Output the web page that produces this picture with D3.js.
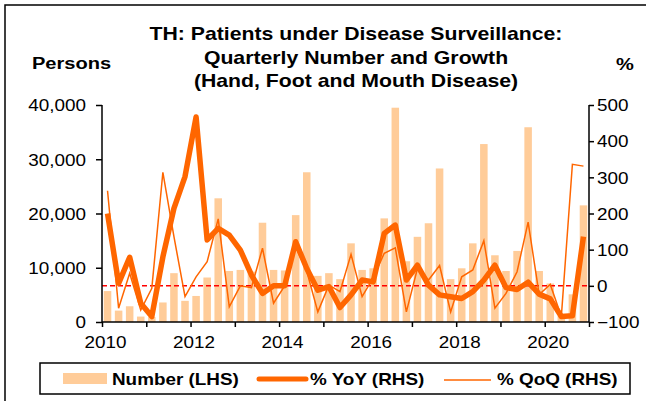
<!DOCTYPE html>
<html>
<head>
<meta charset="utf-8">
<script src="https://cdn.jsdelivr.net/npm/d3@7.9.0/dist/d3.min.js"></script>
<style>
  body { margin: 0; background: #fff; }
  svg { display: block; font-family: "Liberation Sans", Arial, sans-serif; }
</style>
</head>
<body>
<svg width="646" height="401"></svg>
<script>
// quarters 2010Q1 .. 2020Q4
const quarters = d3.range(44).map(i => `${2010 + Math.floor(i / 4)}Q${i % 4 + 1}`);

// patients (persons), left axis
const number = [
  5700, 2100, 2900, 1000, 900, 3600, 9000, 3900, 4800, 8200, 22800, 9400,
  9600, 9300, 18300, 9600, 9500, 19700, 27600, 8500, 9000, 7900, 14500, 9600,
  9900, 19100, 39500, 11200, 15700, 18200, 28300, 7900, 9900, 14500, 32800, 12300,
  9400, 13100, 35900, 9400, 7100, 1100, 5100, 21500
];

// % YoY, right axis
const yoy = [
  200, 7, 79, -48, -85, 80, 214, 302, 467, 127, 159, 140,
  99, 30, -21, 0, 0, 122, 48, -12, -2, -60, -25, 16,
  11, 145, 168, 16, 57, 2, -25, -30, -35, -16, 16, 57,
  -5, -10, 10, -23, -36, -85, -83, 136
];

// % QoQ, right axis
const qoq = [
  263, -62, 35, -67, -7, 314, 136, -30, 25, 67, 185, -58,
  0, -5, 104, -48, 0, 108, 40, -72, 2, -16, 87, -30,
  22, 90, 105, -72, 48, 16, 56, -72, 25, 44, 125, -62,
  -21, 39, 176, -24, 4, -85, 336, 331
];

const leftTicks = [0, 10000, 20000, 30000, 40000];
const rightTicks = [-100, 0, 100, 200, 300, 400, 500];
const yearTicks = d3.range(2010, 2022);

const barColor = "#FFCC99";
const lineColor = "#FF6600";
const SX = 1.18; // chart text looks horizontally stretched

const svg = d3.select("svg");
const plotL = 102, plotR = 589, plotT = 105, plotB = 322;

// outer frame (left and top edges visible)
svg.append("rect").attr("x", 5).attr("y", 5).attr("width", 700).attr("height", 450)
  .attr("fill", "none").attr("stroke", "#000").attr("stroke-width", 1.5);

const x = d3.scaleBand().domain(quarters).range([plotL, plotR]);
const xYear = d3.scaleLinear().domain([2010, 2021]).range([plotL, plotR]);
const yL = d3.scaleLinear().domain([0, 40000]).range([plotB, plotT]);
const yR = d3.scaleLinear().domain([-100, 500]).range([plotB, plotT]);

function stretchText(sel, x0, y0, str, anchor, size, weight) {
  return sel.append("text")
    .attr("transform", `translate(${x0},${y0}) scale(${SX},1)`)
    .attr("text-anchor", anchor)
    .attr("font-size", size)
    .attr("font-weight", weight || "normal")
    .text(str);
}

// bars
const bw = x.bandwidth() * 0.68;
svg.append("g").selectAll("rect").data(number).join("rect")
  .attr("x", (d, i) => x(quarters[i]) + (x.bandwidth() - bw) / 2)
  .attr("y", d => yL(d))
  .attr("width", bw)
  .attr("height", d => yL(0) - yL(d))
  .attr("fill", barColor);

// zero line for right axis
svg.append("line")
  .attr("x1", plotL).attr("x2", plotR)
  .attr("y1", yR(0)).attr("y2", yR(0))
  .attr("stroke", "#FF0000").attr("stroke-width", 1.5)
  .attr("stroke-dasharray", "5,3");

const cx = i => x(quarters[i]) + x.bandwidth() / 2;
const line = d3.line().x((d, i) => cx(i)).y(d => yR(d));

svg.append("path").datum(qoq).attr("d", line)
  .attr("fill", "none").attr("stroke", lineColor).attr("stroke-width", 1.5)
  .attr("stroke-linejoin", "miter");

svg.append("path").datum(yoy).attr("d", line)
  .attr("fill", "none").attr("stroke", lineColor).attr("stroke-width", 5.5)
  .attr("stroke-linejoin", "round");

// axes
const gL = svg.append("g").attr("transform", `translate(${plotL},0)`)
  .call(d3.axisLeft(yL).tickValues(leftTicks).tickSize(6).tickFormat(d3.format(",")));
const gR = svg.append("g").attr("transform", `translate(${plotR},0)`)
  .call(d3.axisRight(yR).tickValues(rightTicks).tickSize(5));
const gX = svg.append("g").attr("transform", `translate(0,${plotB})`)
  .call(d3.axisBottom(xYear).tickValues(yearTicks).tickSize(5)
    .tickFormat(d => d % 2 === 0 ? d : ""));

[gL, gR, gX].forEach(g => {
  g.select(".domain").attr("stroke", "#000").attr("stroke-width", 1.5);
  g.selectAll(".tick line").attr("stroke", "#000").attr("stroke-width", 1.5);
  g.selectAll("text").attr("font-size", 16).attr("fill", "#000")
    .attr("font-family", "Liberation Sans, Arial, sans-serif");
});
gL.select(".domain").attr("d", `M0,${plotB}V${plotT}`);
gR.select(".domain").attr("d", `M0,${plotB}V${plotT}`);
gX.select(".domain").attr("d", `M${plotL},0H${plotR}`);

gL.selectAll("text").attr("x", -16 / SX).attr("dy", "0.36em")
  .attr("transform", `scale(${SX},1)`);
gR.selectAll("text").attr("x", 8 / SX).attr("dy", "0.36em")
  .attr("transform", `scale(${SX},1)`);
gX.selectAll("text").attr("x", 3 / SX).attr("y", 15).attr("dy", "0.71em")
  .attr("transform", `scale(${SX},1)`);

// titles
const title = ["TH: Patients under Disease Surveillance:",
  "Quarterly Number and Growth",
  "(Hand, Foot and Mouth Disease)"];
title.forEach((t, i) => stretchText(svg, 356, 40 + i * 23.5, t, "middle", 18, "bold"));
stretchText(svg, 32, 69, "Persons", "start", 17, "bold");
stretchText(svg, 625, 70, "%", "middle", 17, "bold");

// legend
const lg = svg.append("g");
lg.append("rect").attr("x", 40).attr("y", 363).attr("width", 590).attr("height", 31)
  .attr("fill", "#fff").attr("stroke", "#000").attr("stroke-width", 1.5);
lg.append("rect").attr("x", 63).attr("y", 373).attr("width", 44).attr("height", 11)
  .attr("fill", barColor);
stretchText(lg, 112, 385, "Number (LHS)", "start", 16, "bold");
lg.append("line").attr("x1", 259).attr("x2", 306).attr("y1", 379).attr("y2", 379)
  .attr("stroke", lineColor).attr("stroke-width", 5).attr("stroke-linecap", "round");
stretchText(lg, 310, 385, "% YoY (RHS)", "start", 16, "bold");
lg.append("line").attr("x1", 444).attr("x2", 491).attr("y1", 380).attr("y2", 380)
  .attr("stroke", lineColor).attr("stroke-width", 1.5);
stretchText(lg, 497, 385, "% QoQ (RHS)", "start", 16, "bold");
</script>
</body>
</html>
